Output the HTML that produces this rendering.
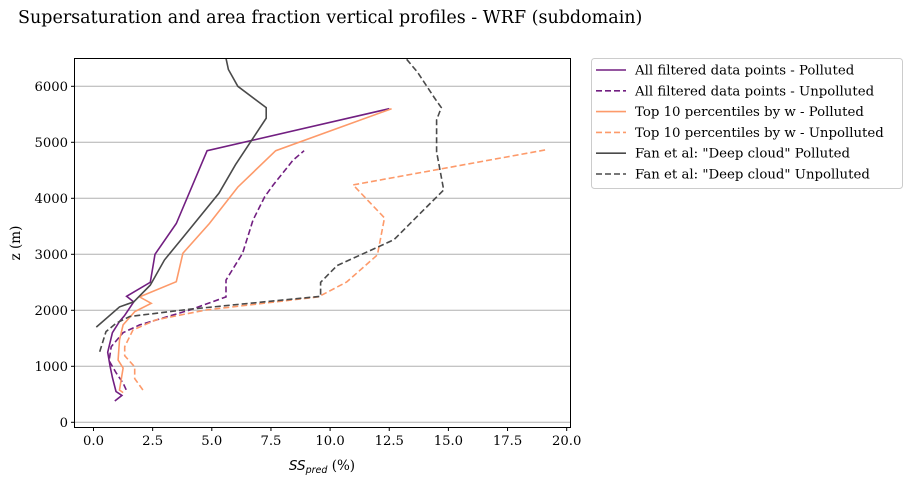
<!DOCTYPE html>
<html><head><meta charset="utf-8"><style>
body{margin:0;background:#fff;}
svg{display:block;font-family:"DejaVu Serif","Liberation Serif",serif;}
</style></head><body>
<svg id="chart" width="911" height="487">
<text x="18" y="23" font-size="17.5" fill="#000">Supersaturation and area fraction vertical profiles - WRF (subdomain)</text>
<g id="grid"></g>
<g id="series"></g>
<rect x="74.5" y="58.5" width="496" height="369" fill="none" stroke="#000" stroke-width="1"/>
<g id="axes"></g>
<text x="322" y="470" font-size="13.5" text-anchor="middle"><tspan font-style="italic" font-family="DejaVu Sans,sans-serif">SS</tspan><tspan font-style="italic" font-family="DejaVu Sans,sans-serif" font-size="9.5" dy="3">pred</tspan><tspan dy="-3"> (%)</tspan></text>
<text x="20" y="243" font-size="13.5" text-anchor="middle" transform="rotate(-90 20 243)">z (m)</text>
<g id="legend">
<rect x="591.5" y="58.5" width="311" height="130" rx="3" fill="#fff" stroke="#ccc"/>
</g>
</svg>
<script>
const xTicks=[0,2.5,5,7.5,10,12.5,15,17.5,20];
const xTickLabels=["0.0","2.5","5.0","7.5","10.0","12.5","15.0","17.5","20.0"];
const yTicks=[0,1000,2000,3000,4000,5000,6000];
const names=["All filtered data points - Polluted","All filtered data points - Unpolluted","Top 10 percentiles by w - Polluted","Top 10 percentiles by w - Unpolluted","Fan et al: \"Deep cloud\" Polluted","Fan et al: \"Deep cloud\" Unpolluted"];
const allPolSS=[0.9,1.2,0.95,0.8,0.7,0.6,0.8,1.1,1.3,1.7,1.4,2.4,2.6,3.5,4.8,12.5];
const allPolZ=[380,480,550,800,1000,1250,1600,1800,1900,2150,2250,2500,3000,3550,4850,5600];
const allUnSS=[1.38,1.25,0.96,0.66,0.75,1.25,1.95,4.07,5.6,5.6,6.3,6.74,7.24,7.6,8.43,8.9];
const allUnZ=[580,700,880,1100,1350,1600,1740,2005,2240,2540,3020,3610,4030,4240,4680,4850];
const topPolSS=[1.25,1.1,1.25,1.04,1.1,1.25,1.74,2.44,1.95,3.5,3.78,4.9,6.1,7.7,12.6];
const topPolZ=[530,577,970,1110,1470,1740,1975,2125,2240,2510,3020,3550,4200,4850,5600];
const topUnSS=[2.09,1.74,1.74,1.32,1.32,1.67,2.65,4.75,9.5,10.7,12.0,12.3,10.97,19.17];
const topUnZ=[577,780,990,1190,1350,1650,1830,2005,2240,2505,2990,3650,4240,4870];
const fanPolSS=[0.12,1.1,1.7,2.4,3.0,3.8,5.3,6.0,7.3,7.3,6.1,5.7,5.6];
const fanPolZ=[1700,2060,2150,2450,2900,3310,4090,4600,5430,5620,6000,6300,6500];
const fanUnSS=[0.26,0.53,0.96,1.53,4.07,9.6,9.6,10.3,12.7,14.8,14.5,14.5,14.7,14.4,13.7,13.2];
const fanUnZ=[1260,1620,1770,1890,2020,2250,2500,2800,3260,4150,4830,5400,5620,5800,6250,6500];
const ns="http://www.w3.org/2000/svg";
function X(v){return 93.5+v*23.66;}
function Y(v){return 422.3-v*0.056;}
const grid=document.getElementById('grid'),axes=document.getElementById('axes'),ser=document.getElementById('series'),leg=document.getElementById('legend');
function mk(tag,attrs,parent){const e=document.createElementNS(ns,tag);for(const k in attrs)e.setAttribute(k,attrs[k]);parent.appendChild(e);return e;}
yTicks.forEach((t,i)=>{
 const g=mk('line',{x1:74.5,x2:570.5,y1:Y(t),y2:Y(t),stroke:'#b0b0b0','stroke-width':1},grid);
 
 
 const tk=mk('line',{x1:71,x2:74.5,y1:Y(t),y2:Y(t),stroke:'#000'},axes);
 
 
 const l=mk('text',{x:68,y:Y(t)+4.5,'font-size':13.2,'text-anchor':'end'},axes);
 l.textContent=String(t);
 
 
});
xTicks.forEach((t,i)=>{
 const tk=mk('line',{x1:X(t),x2:X(t),y1:427.5,y2:431,stroke:'#000'},axes);
 
 
 const l=mk('text',{x:X(t),y:445,'font-size':13.2,'text-anchor':'middle'},axes);
 l.textContent=xTickLabels[i];
 
 
});
const series=[[allPolSS,allPolZ,'#721f81',''],[allUnSS,allUnZ,'#721f81','6,3'],[topPolSS,topPolZ,'#fd9a6a',''],[topUnSS,topUnZ,'#fd9a6a','6,3'],[fanPolSS,fanPolZ,'#4a4a4a',''],[fanUnSS,fanUnZ,'#4a4a4a','6,3']];
series.forEach((s,i)=>{
 const pts=s[0].map((v,j)=>X(v).toFixed(1)+','+Y(s[1][j]).toFixed(1)).join(' ');
 const p=mk('polyline',{points:pts,fill:'none',stroke:s[2],'stroke-width':1.6},ser);
 if(s[3])p.setAttribute('stroke-dasharray',s[3]);
 
 
 const y=70+i*20.8;
 const ll=mk('line',{x1:596,x2:626,y1:y,y2:y,stroke:s[2],'stroke-width':1.6},leg);
 if(s[3])ll.setAttribute('stroke-dasharray',s[3]);
 
 
 const t=mk('text',{x:635,y:y+4.5,'font-size':13.3},leg);
 t.textContent=names[i];
 
 
});
</script>
</body></html>
